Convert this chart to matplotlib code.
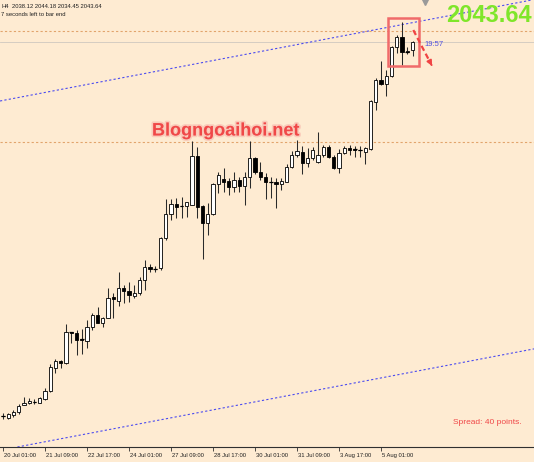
import numpy as np
import matplotlib
matplotlib.use('Agg')
import matplotlib.pyplot as plt
import matplotlib.patheffects as pe
from matplotlib.patches import Rectangle
from matplotlib.transforms import ScaledTranslation

plt.rcParams['font.family'] = ['Liberation Sans', 'DejaVu Sans']

# XAUUSD H4 candles, 20 Jul 01:00 -> 6 Aug 01:00
opens = [1797.6, 1796.3, 1798.1, 1800.2, 1804.4, 1805.7, 1806.6, 1806.1, 1808.8, 1813.8,
         1829.2, 1833.8, 1832.1, 1852.5, 1852.2, 1848.1, 1846.9, 1856.1, 1863.8, 1858.4,
         1861.7, 1875.5, 1873.2, 1881.8, 1879.6, 1876.5, 1878.1, 1886.9, 1895.6, 1894.1,
         1894.6, 1914.3, 1930.1, 1936.9, 1935.5, 1935.5, 1936.2, 1968.6, 1935.5, 1924.2,
         1930.1, 1949.8, 1953.6, 1952.0, 1948.2, 1952.7, 1948.7, 1954.8, 1966.9, 1958.1,
         1954.8, 1951.1, 1951.5, 1950.0, 1951.5, 1961.4, 1969.1, 1971.1, 1963.6, 1966.9,
         1964.7, 1969.1, 1974.2, 1968.0, 1960.4, 1970.6, 1973.9, 1972.9, 1972.4, 1971.3,
         1972.9, 2004.2, 2018.4, 2015.8, 2021.1, 2040.3, 2046.5, 2037.1, 2038.12]
highs = [1799.6, 1799.6, 1801.3, 1805.3, 1810.1, 1809.2, 1808.4, 1810.1, 1815.8, 1831.6,
         1834.7, 1834.2, 1857.9, 1852.7, 1854.0, 1854.4, 1860.5, 1865.2, 1868.9, 1862.7,
         1881.4, 1878.1, 1891.9, 1883.6, 1885.7, 1883.6, 1889.0, 1900.0, 1897.2, 1896.1,
         1915.4, 1940.2, 1940.2, 1940.6, 1941.7, 1938.4, 1978.6, 1974.6, 1936.2, 1937.3,
         1950.7, 1958.1, 1960.7, 1953.8, 1958.1, 1954.8, 1958.1, 1978.4, 1968.0, 1964.7,
         1957.1, 1954.8, 1954.2, 1954.2, 1963.0, 1971.7, 1979.0, 1975.0, 1973.5, 1974.2,
         1984.4, 1975.7, 1975.7, 1969.1, 1972.9, 1975.0, 1975.7, 1975.0, 1975.0, 1974.6,
         2005.3, 2019.6, 2031.1, 2025.0, 2040.8, 2048.0, 2056.8, 2040.3, 2044.18]
lows = [1795.6, 1795.6, 1796.9, 1798.7, 1804.4, 1805.3, 1805.3, 1805.7, 1807.9, 1813.4,
        1825.5, 1829.2, 1831.6, 1845.2, 1837.5, 1838.2, 1841.9, 1854.0, 1858.4, 1856.1,
        1861.7, 1861.7, 1870.0, 1871.5, 1872.6, 1874.8, 1877.0, 1880.3, 1892.3, 1892.3,
        1893.4, 1913.2, 1926.3, 1927.5, 1927.5, 1928.5, 1936.2, 1927.5, 1900.7, 1916.5,
        1929.6, 1943.9, 1945.0, 1942.8, 1945.0, 1945.0, 1936.2, 1947.2, 1956.4, 1952.7,
        1940.2, 1940.6, 1934.4, 1946.1, 1951.1, 1960.4, 1968.0, 1956.4, 1961.4, 1965.8,
        1963.6, 1968.0, 1966.9, 1959.7, 1957.1, 1969.8, 1969.1, 1968.0, 1968.0, 1963.2,
        1972.4, 1998.7, 2015.2, 2007.9, 2020.6, 2036.0, 2028.3, 2035.4, 2034.45]
closes = [1797.2, 1798.5, 1800.2, 1804.2, 1806.1, 1807.3, 1806.8, 1809.0, 1813.8, 1829.4,
          1833.6, 1832.1, 1852.5, 1852.2, 1847.4, 1847.7, 1856.1, 1863.8, 1858.4, 1861.7,
          1875.2, 1874.2, 1881.4, 1879.8, 1877.0, 1878.1, 1886.9, 1895.6, 1893.9, 1893.9,
          1914.3, 1930.1, 1936.7, 1935.1, 1935.4, 1938.0, 1968.6, 1935.1, 1924.2, 1930.1,
          1949.8, 1955.9, 1951.3, 1948.2, 1952.7, 1948.7, 1954.8, 1966.9, 1958.1, 1954.8,
          1951.1, 1951.3, 1950.0, 1952.0, 1961.4, 1969.1, 1971.7, 1963.8, 1967.3, 1972.4,
          1969.1, 1974.2, 1967.6, 1960.4, 1970.6, 1973.9, 1972.4, 1972.7, 1972.6, 1973.5,
          2004.8, 2018.4, 2015.8, 2021.1, 2040.3, 2046.9, 2037.1, 2037.3, 2043.64]

tick_bars = [0, 8, 16, 24, 32, 40, 48, 56, 64, 72]
tick_labels = ['20 Jul 01:00', '21 Jul 09:00', '22 Jul 17:00', '24 Jul 01:00', '27 Jul 09:00',
               '28 Jul 17:00', '30 Jul 01:00', '31 Jul 09:00', '3 Aug 17:00', '5 Aug 01:00']

# channel anchors as (bar, price)
upper_channel = [(0, 2005.0), (100, 2070.6)]
lower_channel = [(0, 1775.2), (100, 1840.8)]
levels = [2050.7, 1977.6]
bid = 2043.64
spread_points = 40
countdown = '19:57'

# marked zone + arrow (bar, price)
box_bars = (73.4, 79.15)
box_prices = (2027.6, 2059.0)
arrow_from = (78.15, 2051.3)
arrow_to = (81.96, 2026.1)

W, H = 534, 462
bg = '#FEEBD2'


def px(x, y):
    return x / W, 1 - y / H


fig = plt.figure(figsize=(W / 100, H / 100), dpi=100, facecolor=bg)
ax = fig.add_axes([0, 15 / H, 1, 447 / H], facecolor=bg)

o = np.array(opens)
c = np.array(closes)
x = np.arange(len(o))
up = c >= o

ax.vlines(x, lows, highs, color='#2a2a2a', linewidth=0.75, zorder=3)
ax.bar(x, np.abs(c - o), bottom=np.minimum(o, c), width=0.6,
       color=np.where(up, 'white', 'black'), edgecolor='black', linewidth=0.6, zorder=4)
doji = np.abs(c - o) < 0.5
ax.hlines(o[doji], x[doji] - 0.35, x[doji] + 0.35, color='black', linewidth=0.9, zorder=4)

# lines
for p0, p1 in (upper_channel, lower_channel):
    ax.axline(p0, p1, color='#4b4bf0', linestyle=(0, (2, 2)), linewidth=0.8, zorder=2)
for lv in levels:
    ax.axhline(lv, color='#e2a46c', linestyle=(0, (2, 2)), linewidth=0.8, zorder=1)
ax.axhline(bid, color='#cfc8c0', linewidth=0.6, zorder=1)

ax.add_patch(Rectangle((box_bars[0], box_prices[0]), box_bars[1] - box_bars[0],
                       box_prices[1] - box_prices[0], fill=False,
                       edgecolor='#f06a6a', linewidth=1.8, zorder=5))
mid = (arrow_from[0] + 0.85 * (arrow_to[0] - arrow_from[0]),
       arrow_from[1] + 0.85 * (arrow_to[1] - arrow_from[1]))
ax.plot([arrow_from[0], mid[0]], [arrow_from[1], mid[1]], color='#f04444',
        linestyle=(0, (2.5, 1.5)), linewidth=1.6, zorder=5)
ax.annotate('', xy=arrow_to, xytext=mid,
            arrowprops=dict(arrowstyle='-|>', color='#f04444', lw=1.4, mutation_scale=7))

ax.set_xlim(-0.571, 101.14)
ax.set_ylim(1777.0, 2071.07)
ax.set_yticks([])
for s in ['left', 'right', 'top']:
    ax.spines[s].set_visible(False)
ax.spines['bottom'].set_color('#303030')
ax.spines['bottom'].set_linewidth(0.8)
ax.set_xticks(tick_bars)
ax.set_xticklabels(tick_labels, fontsize=4.2, ha='left', color='#202020')
ax.tick_params(axis='x', length=3, width=0.6, pad=1.2, color='#303030')
for lbl in ax.get_xticklabels():
    lbl.set_transform(lbl.get_transform() + ScaledTranslation(1 / 100, 0, fig.dpi_scale_trans))

# chart shift marker
ax.plot([425 / W], [1 - 2 / 447], marker='v', ms=4, color='#9a9a9a',
        transform=ax.transAxes, clip_on=False)

# header texts
fig.text(*px(1, 6), 'H4', fontsize=4.2, ha='left', va='center', color='#202020')
fig.text(*px(12, 6), f'{opens[-1]:.2f} {highs[-1]:.2f} {lows[-1]:.2f} {closes[-1]:.2f}',
         fontsize=4.2, ha='left', va='center', color='#202020')
fig.text(*px(1, 15), '7 seconds left to bar end', fontsize=4.2, ha='left', va='center',
         color='#202020')

fig.text(*px(532, 15), f'{closes[-1]:.2f}', fontsize=17, fontweight='bold',
         color='#7fe62a', ha='right', va='center')
fig.text(*px(424, 44), countdown, fontsize=5.5, color='#5050e0', ha='left', va='center')

fig.text(*px(152, 131), 'Blogngoaihoi.net', fontsize=13, fontweight='bold',
         color='#f04848', ha='left', va='center',
         path_effects=[pe.Stroke(linewidth=2.5, foreground='#f6a8a0', alpha=0.45), pe.Normal()])

fig.text(*px(453, 423), f'Spread: {spread_points} points.', fontsize=6, color='#f04848',
         ha='left', va='center')

fig.savefig('out.png', dpi=100, facecolor=bg)
